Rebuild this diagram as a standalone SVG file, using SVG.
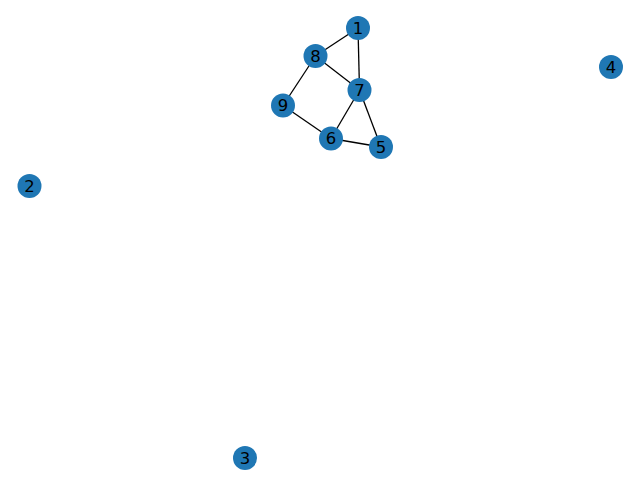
<svg xmlns="http://www.w3.org/2000/svg" width="640" height="480" viewBox="0 0 640 480">
<style>
.n circle{fill:#1f77b4}
.n text{font-family:"DejaVu Sans",sans-serif;font-size:16.5px;fill:#000;text-anchor:middle;dominant-baseline:central}
.e line{stroke:#000;stroke-width:1.3}
</style>
<rect width="640" height="480" fill="#fff"/>
<g id="edges" class="e">
<line x1="358" y1="28" x2="315.5" y2="56"/>
<line x1="358" y1="28" x2="359.5" y2="90"/>
<line x1="315.5" y1="56" x2="359.5" y2="90"/>
<line x1="315.5" y1="56" x2="283" y2="105.5"/>
<line x1="283" y1="105.5" x2="331" y2="138.5"/>
<line x1="331" y1="138.5" x2="359.5" y2="90"/>
<line x1="331" y1="138.5" x2="381" y2="147"/>
<line x1="359.5" y1="90" x2="381" y2="147"/>
</g>
<g id="node1" class="n"><circle cx="358" cy="28" r="12"/><text x="358" y="28">1</text></g>
<g id="node2" class="n"><circle cx="29.5" cy="186" r="12"/><text x="29.5" y="186">2</text></g>
<g id="node3" class="n"><circle cx="245" cy="458" r="12"/><text x="245" y="458">3</text></g>
<g id="node4" class="n"><circle cx="611" cy="67" r="12"/><text x="611" y="67">4</text></g>
<g id="node5" class="n"><circle cx="381" cy="147" r="12"/><text x="381" y="147">5</text></g>
<g id="node6" class="n"><circle cx="331" cy="138.5" r="12"/><text x="331" y="138.5">6</text></g>
<g id="node7" class="n"><circle cx="359.5" cy="90" r="12"/><text x="359.5" y="90">7</text></g>
<g id="node8" class="n"><circle cx="315.5" cy="56" r="12"/><text x="315.5" y="56">8</text></g>
<g id="node9" class="n"><circle cx="283" cy="105.5" r="12"/><text x="283" y="105.5">9</text></g>
</svg>
